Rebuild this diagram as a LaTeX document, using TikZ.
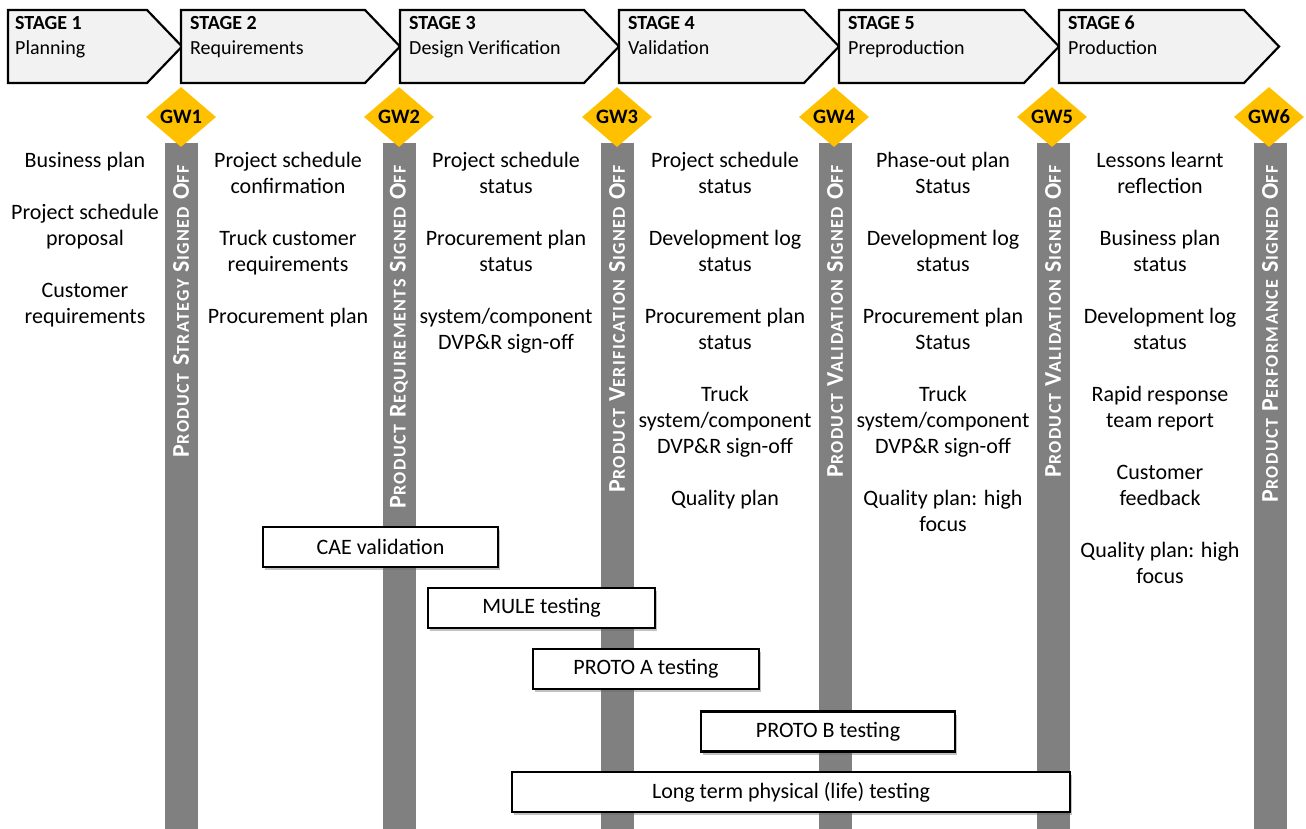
\documentclass[tikz,border=0pt]{standalone}
\usepackage{fontspec}
\setmainfont{Carlito}
\usetikzlibrary{shapes.geometric,shadows}
\definecolor{gold}{HTML}{FFC000}
\definecolor{bargray}{HTML}{808080}
\definecolor{stagefill}{HTML}{F2F2F2}
\newcommand\smc[1]{{\fontsize{18}{18}\selectfont #1}}
\newcommand\sgo{S\smc{IGNED} O\smc{FF}}
\begin{document}
\begin{tikzpicture}[x=1pt,y=-1pt,
  stagebox/.style={draw=black, line width=2.2pt, fill=stagefill, line join=miter},
  stagelbl/.style={anchor=north west, inner sep=0pt, align=left, font=\fontsize{20}{25}\selectfont},
  gw/.style={diamond, fill=gold, inner sep=0pt, minimum width=70pt, minimum height=60pt, font=\fontsize{20.5}{20.5}\selectfont\bfseries},
  bar/.style={fill=bargray, inner sep=0pt, minimum width=33pt, minimum height=686pt, anchor=north},
  rot/.style={rotate=90, anchor=east, inner sep=0pt, text=white, font=\fontsize{24}{24}\selectfont\bfseries\addfontfeature{LetterSpace=8}},
  col/.style={anchor=north, inner sep=0pt, align=center, font=\fontsize{22}{26}\selectfont},
  task/.style={draw=black, line width=2.2pt, fill=white, inner sep=0pt, minimum height=40pt, font=\fontsize{22}{26}\selectfont,
    drop shadow={shadow xshift=2pt, shadow yshift=-3pt, fill=black!60, opacity=0.4}}
]
\useasboundingbox (0,0) rectangle (1306,828);
% stages
\draw[stagebox] (8,10) -- (147,10) -- (182,46.5) -- (147,83) -- (8,83) -- cycle;
\draw[stagebox] (181,10) -- (365,10) -- (400,46.5) -- (365,83) -- (181,83) -- cycle;
\draw[stagebox] (400,10) -- (584,10) -- (619,46.5) -- (584,83) -- (400,83) -- cycle;
\draw[stagebox] (619,10) -- (804,10) -- (839,46.5) -- (804,83) -- (619,83) -- cycle;
\draw[stagebox] (839,10) -- (1024,10) -- (1059,46.5) -- (1024,83) -- (839,83) -- cycle;
\draw[stagebox] (1059,10) -- (1244,10) -- (1279,46.5) -- (1244,83) -- (1059,83) -- cycle;
\node[stagelbl] (s1) at (15,16) {\textbf{STAGE 1}\\Planning};
\node[stagelbl] (s2) at (190,16) {\textbf{STAGE 2}\\Requirements};
\node[stagelbl] (s3) at (409,16) {\textbf{STAGE 3}\\Design Verification};
\node[stagelbl] (s4) at (628,16) {\textbf{STAGE 4}\\Validation};
\node[stagelbl] (s5) at (848,16) {\textbf{STAGE 5}\\Preproduction};
\node[stagelbl] (s6) at (1068,16) {\textbf{STAGE 6}\\Production};
% bars
\node[bar] (b1) at (181,143) {};
\node[bar] (b2) at (399,143) {};
\node[bar] (b3) at (617,143) {};
\node[bar] (b4) at (835,143) {};
\node[bar] (b5) at (1053,143) {};
\node[bar] (b6) at (1270,143) {};
\node[rot] (r1) at (181,165) {P\smc{RODUCT} S\smc{TRATEGY} \sgo};
\node[rot] (r2) at (399,165) {P\smc{RODUCT} R\smc{EQUIREMENTS} \sgo};
\node[rot] (r3) at (617,165) {P\smc{RODUCT} V\smc{ERIFICATION} \sgo};
\node[rot] (r4) at (835,165) {P\smc{RODUCT} V\smc{ALIDATION} \sgo};
\node[rot] (r5) at (1053,165) {P\smc{RODUCT} V\smc{ALIDATION} \sgo};
\node[rot] (r6) at (1270,165) {P\smc{RODUCT} P\smc{ERFORMANCE} \sgo};
% gateways
\node[gw] (g1) at (181,117) {GW1};
\node[gw] (g2) at (399,117) {GW2};
\node[gw] (g3) at (617,117) {GW3};
\node[gw] (g4) at (834,117) {GW4};
\node[gw] (g5) at (1052,117) {GW5};
\node[gw] (g6) at (1269,117) {GW6};
% columns
\node[col] (c1) at (85,152) {Business plan\\[26pt]Project schedule\\proposal\\[26pt]Customer\\requirements};
\node[col] (c2) at (288,152) {Project schedule\\confirmation\\[26pt]Truck customer\\requirements\\[26pt]Procurement plan};
\node[col] (c3) at (506,152) {Project schedule\\status\\[26pt]Procurement plan\\status\\[26pt]system/component\\DVP\&R sign-off};
\node[col] (c4) at (725,152) {Project schedule\\status\\[26pt]Development log\\status\\[26pt]Procurement plan\\status\\[26pt]Truck\\system/component\\DVP\&R sign-off\\[26pt]Quality plan};
\node[col] (c5) at (943,152) {Phase-out plan\\Status\\[26pt]Development log\\status\\[26pt]Procurement plan\\Status\\[26pt]Truck\\system/component\\DVP\&R sign-off\\[26pt]Quality plan: high\\focus};
\node[col] (c6) at (1160,152) {Lessons learnt\\reflection\\[26pt]Business plan\\status\\[26pt]Development log\\status\\[26pt]Rapid response\\team report\\[26pt]Customer\\feedback\\[26pt]Quality plan: high\\focus};
% tasks
\node[task, minimum width=235pt] (t1) at (380.5,547) {CAE validation};
\node[task, minimum width=227pt] (t2) at (541.5,608) {MULE testing};
\node[task, minimum width=226pt] (t3) at (646,669) {PROTO A testing};
\node[task, minimum width=254pt] (t4) at (828,731.5) {PROTO B testing};
\node[task, minimum width=558pt] (t5) at (791,792) {Long term physical (life) testing};
\end{tikzpicture}
\end{document}
